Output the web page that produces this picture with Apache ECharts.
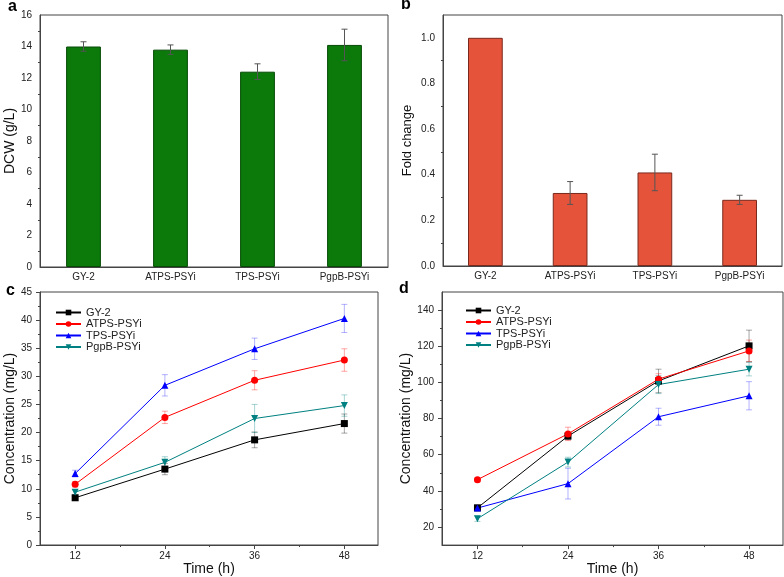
<!DOCTYPE html>
<html>
<head>
<meta charset="utf-8">
<script src="https://cdn.jsdelivr.net/npm/echarts@6/dist/echarts.min.js"></script>
<style>
html, body { margin: 0; padding: 0; background: #fff; }
#main { width: 784px; height: 577px; }
</style>
</head>
<body>
<div id="main"></div>
<script>
var strains = ['GY-2', 'ATPS-PSYi', 'TPS-PSYi', 'PgpB-PSYi'];

// a: DCW (g/L)
var dcw = [14.0, 13.8, 12.4, 14.1];
var dcwErr = [0.3, 0.3, 0.5, 1.0];

// b: fold change
var fold = [1.0, 0.32, 0.41, 0.29];
var foldErr = [0, 0.05, 0.08, 0.02];

var hours = [12, 24, 36, 48];
var hourMinor = [18, 30, 42];

// c: concentration (mg/L)
var cGY = [8.4, 13.5, 18.7, 21.6];
var cGYErr = [0.4, 1.0, 1.4, 1.7];
var cATPS = [10.8, 22.7, 29.3, 32.9];
var cATPSErr = [0.5, 1.1, 1.7, 2.0];
var cTPS = [12.7, 28.4, 34.9, 40.3];
var cTPSErr = [0.6, 1.9, 1.9, 2.5];
var cPgpB = [9.4, 14.7, 22.5, 24.8];
var cPgpBErr = [0.4, 1.0, 2.5, 1.9];

// d: concentration (mg/L)
var dGY = [30.6, 70.3, 100.8, 120.2];
var dGYErr = [1.5, 2.0, 6.5, 8.7];
var dATPS = [46.2, 71.5, 101.8, 117.4];
var dATPSErr = [1.0, 3.7, 3.0, 6.0];
var dTPS = [30.5, 44.0, 81.0, 92.6];
var dTPSErr = [1.5, 8.5, 4.7, 7.8];
var dPgpB = [24.6, 55.9, 98.8, 107.3];
var dPgpBErr = [1.5, 2.7, 5.0, 3.7];

var dTicks = [20, 40, 60, 80, 100, 120, 140];
var dMinor = [30, 50, 70, 90, 110, 130];

var FONT = 'Liberation Sans';
var lineColors = ['#000000', '#ff0000', '#0000ff', '#008080'];
var errColors = ['rgba(0,0,0,0.35)', 'rgba(255,0,0,0.35)', 'rgba(0,0,255,0.3)', 'rgba(0,128,128,0.35)'];
var symbols = ['rect', 'circle', 'triangle', 'triangle'];
var rotates = [0, 0, 0, 180];

function errData(xs, vals, errs) {
    var out = [];
    for (var i = 0; i < vals.length; i++) {
        if (errs[i] > 0) out.push([xs[i], vals[i] - errs[i], vals[i] + errs[i]]);
    }
    return out;
}

function renderErr(params, api) {
    var x = api.value(0);
    var lo = api.coord([x, api.value(1)]);
    var hi = api.coord([x, api.value(2)]);
    var w = 3;
    var st = { stroke: api.visual('color'), lineWidth: 1 };
    return {
        type: 'group',
        children: [
            { type: 'line', shape: { x1: lo[0], y1: lo[1], x2: hi[0], y2: hi[1] }, style: st },
            { type: 'line', shape: { x1: lo[0] - w, y1: lo[1], x2: lo[0] + w, y2: lo[1] }, style: st },
            { type: 'line', shape: { x1: hi[0] - w, y1: hi[1], x2: hi[0] + w, y2: hi[1] }, style: st }
        ]
    };
}

var axisLine = { lineStyle: { color: '#444', width: 1 } };
var tickStyle = { length: 4, lineStyle: { color: '#444' } };
var labelStyle = { fontFamily: FONT, fontSize: 10, color: '#222' };
var nameStyle = { fontFamily: FONT, fontSize: 14, color: '#111' };

var grids = [
    { left: 40, top: 15, width: 348, height: 252 },
    { left: 443, top: 15, width: 339, height: 251 },
    { left: 40, top: 292, width: 338, height: 253 },
    { left: 442, top: 292, width: 341, height: 255 }
];
grids.forEach(function (g) {
    g.show = true;
    g.borderColor = '#444';
    g.borderWidth = 1;
    g.containLabel = false;
});

var xAxes = [
    { gridIndex: 0, type: 'category', data: strains, axisLine: axisLine, axisTick: tickStyle,
      axisLabel: Object.assign({ margin: 5 }, labelStyle) },
    { gridIndex: 1, type: 'category', data: strains, axisLine: axisLine, axisTick: tickStyle,
      axisLabel: Object.assign({ margin: 5 }, labelStyle) },
    { gridIndex: 2, type: 'value', min: 7.3, max: 52.5, splitLine: { show: false },
      axisLine: axisLine, axisTick: Object.assign({ customValues: hours }, tickStyle),
      axisLabel: Object.assign({ customValues: hours, margin: 6 }, labelStyle),
      name: 'Time (h)', nameLocation: 'middle', nameGap: 17, nameTextStyle: nameStyle },
    { gridIndex: 3, type: 'value', min: 7.3, max: 52.5, splitLine: { show: false },
      axisLine: axisLine, axisTick: Object.assign({ customValues: hours }, tickStyle),
      axisLabel: Object.assign({ customValues: hours, margin: 6 }, labelStyle),
      name: 'Time (h)', nameLocation: 'middle', nameGap: 15, nameTextStyle: nameStyle },
    { gridIndex: 2, type: 'value', position: 'bottom', min: 7.3, max: 52.5, splitLine: { show: false },
      axisLine: { show: false }, axisLabel: { show: false },
      axisTick: { customValues: hourMinor, length: 2, lineStyle: { color: '#444' } } },
    { gridIndex: 3, type: 'value', position: 'bottom', min: 7.3, max: 52.5, splitLine: { show: false },
      axisLine: { show: false }, axisLabel: { show: false },
      axisTick: { customValues: hourMinor, length: 2, lineStyle: { color: '#444' } } }
];

var minorTick = { show: true, splitNumber: 2, length: 2, lineStyle: { color: '#444' } };

var yAxes = [
    { gridIndex: 0, type: 'value', min: 0, max: 16, interval: 2, splitLine: { show: false },
      axisLine: Object.assign({ show: true }, axisLine), axisTick: tickStyle, minorTick: minorTick,
      axisLabel: labelStyle,
      name: 'DCW (g/L)', nameLocation: 'middle', nameGap: 22, nameTextStyle: nameStyle },
    { gridIndex: 1, type: 'value', min: 0, max: 1.1, interval: 0.2, splitLine: { show: false },
      axisLine: Object.assign({ show: true }, axisLine), axisTick: tickStyle, minorTick: minorTick,
      axisLabel: Object.assign({ showMaxLabel: false, formatter: function (v) { return v.toFixed(1); } }, labelStyle),
      name: 'Fold change', nameLocation: 'middle', nameGap: 29,
      nameTextStyle: Object.assign({}, nameStyle, { fontSize: 13 }) },
    { gridIndex: 2, type: 'value', min: 0, max: 45, interval: 5, splitLine: { show: false },
      axisLine: Object.assign({ show: true }, axisLine), axisTick: tickStyle, minorTick: minorTick,
      axisLabel: labelStyle,
      name: 'Concentration (mg/L)', nameLocation: 'middle', nameGap: 23, nameTextStyle: nameStyle },
    { gridIndex: 3, type: 'value', min: 10, max: 150, splitLine: { show: false },
      axisLine: Object.assign({ show: true }, axisLine),
      axisTick: Object.assign({ customValues: dTicks }, tickStyle),
      axisLabel: Object.assign({ customValues: dTicks }, labelStyle),
      name: 'Concentration (mg/L)', nameLocation: 'middle', nameGap: 26, nameTextStyle: nameStyle },
    { gridIndex: 3, type: 'value', position: 'left', min: 10, max: 150, splitLine: { show: false },
      axisLine: { show: false }, axisLabel: { show: false },
      axisTick: { customValues: dMinor, length: 2, lineStyle: { color: '#444' } } }
];

var series = [
    { type: 'bar', xAxisIndex: 0, yAxisIndex: 0, data: dcw, barWidth: '40%',
      itemStyle: { color: '#0b7a0b', borderColor: '#064a06', borderWidth: 1 } },
    { type: 'custom', xAxisIndex: 0, yAxisIndex: 0, renderItem: renderErr,
      data: errData([0, 1, 2, 3], dcw, dcwErr), itemStyle: { color: '#555' }, z: 5 },
    { type: 'bar', xAxisIndex: 1, yAxisIndex: 1, data: fold, barWidth: '41%',
      itemStyle: { color: '#e5533a', borderColor: '#7a2a1d', borderWidth: 1 } },
    { type: 'custom', xAxisIndex: 1, yAxisIndex: 1, renderItem: renderErr,
      data: errData([0, 1, 2, 3], fold, foldErr), itemStyle: { color: '#555' }, z: 5 }
];

function addLines(xIdx, yIdx, sets) {
    sets.forEach(function (s, i) {
        series.push({
            type: 'custom', xAxisIndex: xIdx, yAxisIndex: yIdx, renderItem: renderErr,
            data: errData(hours, s.vals, s.errs), itemStyle: { color: errColors[i] }, z: 1,
            silent: true
        });
    });
    sets.forEach(function (s, i) {
        series.push({
            name: s.name, type: 'line', xAxisIndex: xIdx, yAxisIndex: yIdx,
            data: hours.map(function (h, k) { return [h, s.vals[k]]; }),
            symbol: symbols[i], symbolRotate: rotates[i], symbolSize: 7,
            lineStyle: { color: lineColors[i], width: 1 },
            itemStyle: { color: lineColors[i] }, z: 3
        });
    });
}

addLines(2, 2, [
    { name: strains[0], vals: cGY, errs: cGYErr },
    { name: strains[1], vals: cATPS, errs: cATPSErr },
    { name: strains[2], vals: cTPS, errs: cTPSErr },
    { name: strains[3], vals: cPgpB, errs: cPgpBErr }
]);
addLines(3, 3, [
    { name: strains[0], vals: dGY, errs: dGYErr },
    { name: strains[1], vals: dATPS, errs: dATPSErr },
    { name: strains[2], vals: dTPS, errs: dTPSErr },
    { name: strains[3], vals: dPgpB, errs: dPgpBErr }
]);

function legendAt(left, top) {
    return {
        data: strains, orient: 'vertical', left: left, top: top, padding: 0,
        itemWidth: 25, itemHeight: 7, itemGap: 0.5,
        textStyle: { fontFamily: FONT, fontSize: 11, color: '#222', lineHeight: 11 }
    };
}

function panelLabel(txt, x, y) {
    return { type: 'text', left: x, top: y,
             style: { text: txt, font: 'bold 16px "Liberation Sans"', fill: '#000' } };
}

var option = {
    animation: false,
    backgroundColor: '#fff',
    grid: grids,
    xAxis: xAxes,
    yAxis: yAxes,
    legend: [legendAt(55, 307), legendAt(465, 305)],
    graphic: [
        panelLabel('a', 8, -1),
        panelLabel('b', 401, -3),
        panelLabel('c', 6, 283),
        panelLabel('d', 399, 281)
    ],
    series: series
};

var chart = echarts.init(document.getElementById('main'));
chart.setOption(option);
</script>
</body>
</html>
